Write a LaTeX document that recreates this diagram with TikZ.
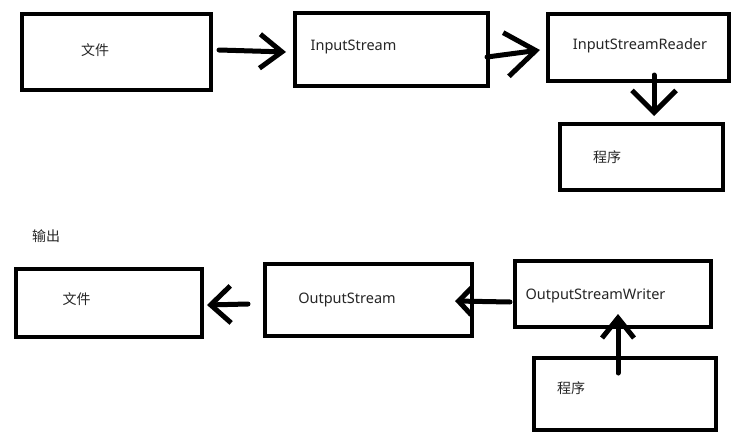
\documentclass[tikz,border=0pt]{standalone}
\usepackage{fontspec}
\setmainfont{Noto Sans}
\newfontfamily\cjk{Noto Sans CJK SC}
\usetikzlibrary{calc,arrows.meta}
\tikzset{
  box/.style={draw=black, line width=4pt, inner sep=0pt, rectangle},
  lbl/.style={inner sep=0pt, text=black!85, font=\fontsize{14.5}{17}\selectfont},
  clbl/.style={inner sep=0pt, text=black!85, font=\cjk\fontsize{14}{16}\selectfont},
  conn/.style={line width=5pt, line cap=round, line join=round, black}
}
\begin{document}
\begin{tikzpicture}[x=1pt,y=-1pt]
\useasboundingbox (0,0) rectangle (741,436);
\fill[white] (0,0) rectangle (741,436);
% top row
\node[box, minimum width=189pt, minimum height=76pt] (B1) at (116.5,52) {};
\node[box, minimum width=193pt, minimum height=73pt] (B2) at (391.5,49.5) {};
\node[box, minimum width=181pt, minimum height=67pt] (B3) at (638.5,47.5) {};
\node[box, minimum width=163pt, minimum height=66pt] (B4) at (641.5,157) {};
\node[clbl] (T1) at (95,50) {文件};
\node[lbl] (T2) at (353.5,47) {InputStream};
\node[lbl] (T3) at (640,46) {InputStreamReader};
\node[clbl] (T4) at (607,157.5) {程序};
% bottom row
\node[clbl] (T0) at (46,236.5) {输出};
\node[box, minimum width=186pt, minimum height=68pt] (B5) at (109,303) {};
\node[box, minimum width=207pt, minimum height=72pt] (B6) at (368.5,300) {};
\node[box, minimum width=196pt, minimum height=66pt] (B7) at (613,294) {};
\node[box, minimum width=182pt, minimum height=72pt] (B8) at (625,394) {};
\node[clbl] (T5) at (76.5,299.5) {文件};
\node[lbl] (T6) at (347,299.5) {OutputStream};
\node[lbl] (T7) at (595.5,296) {OutputStreamWriter};
\node[clbl] (T8) at (571,388) {程序};
% connectors
\draw[conn, -{Straight Barb[length=22pt,width=34pt]}] ($(B1.east)+(6,-2)$) -- ($(B2.west)+(-7,2.5)$);
\draw[conn, -{Straight Barb[length=30pt,width=44pt]}] ($(B2.east)+(-3,7.5)$) -- ($(B3.west)+(-6,2.5)$);
\draw[conn, -{Straight Barb[length=22pt,width=44pt]}] ($(B3.south)+(15.5,-8)$) -- ($(B4.north)+(12.5,-6)$);
\draw[conn, -{Straight Barb[length=20pt,width=37pt]}] ($(B6.west)+(-15,4)$) -- ($(B5.east)+(3,2)$);
\draw[conn, -{Straight Barb[length=13pt,width=27pt]}] ($(B7.west)+(-3,8)$) -- ($(B6.east)+(-19,1)$);
\draw[conn, -{Straight Barb[length=20pt,width=32pt]}] ($(B8.north)+(-7,17)$) -- ($(B7.south)+(5,-15)$);
\end{tikzpicture}
\end{document}
